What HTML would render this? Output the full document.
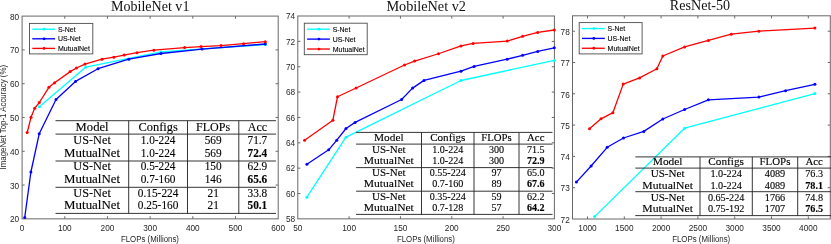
<!DOCTYPE html>
<html><head><meta charset="utf-8"><title>MutualNet accuracy-FLOPs</title>
<style>
html,body{margin:0;padding:0;background:#fff;}
body{width:831px;height:244px;overflow:hidden;}
svg{display:block;will-change:transform;opacity:0.999;}
text{font-family:"Liberation Sans",sans-serif;}
.tk{font-size:8.5px;fill:#262626;}
.al{font-size:8.3px;fill:#262626;}
.lg{font-size:7px;fill:#000;stroke:#000;stroke-width:0.1px;}
.ti{font-family:"Liberation Serif",serif;font-size:13.6px;fill:#111;}
.tb{font-family:"Liberation Serif",serif;fill:#000;stroke:#000;stroke-width:0.12px;}
</style></head><body>
<svg width="831" height="244" viewBox="0 0 831 244">
<rect width="831" height="244" fill="#fff"/>
<path d="M64.78 218.85v-2.6M64.78 16.1v2.6M107.46 218.85v-2.6M107.46 16.1v2.6M150.14 218.85v-2.6M150.14 16.1v2.6M192.82 218.85v-2.6M192.82 16.1v2.6M235.5 218.85v-2.6M235.5 16.1v2.6M22.1 185.06h2.6M278.2 185.06h-2.6M22.1 151.27h2.6M278.2 151.27h-2.6M22.1 117.48h2.6M278.2 117.48h-2.6M22.1 83.69h2.6M278.2 83.69h-2.6M22.1 49.9h2.6M278.2 49.9h-2.6" stroke="#686868" stroke-width="1.0" fill="none"/>
<rect x="22.1" y="16.1" width="256.1" height="202.75" fill="none" stroke="#686868" stroke-width="1.0"/>
<text x="22.1" y="230.55" class="tk" text-anchor="middle" textLength="4.6" lengthAdjust="spacingAndGlyphs">0</text>
<text x="64.78" y="230.55" class="tk" text-anchor="middle" textLength="13.8" lengthAdjust="spacingAndGlyphs">100</text>
<text x="107.46" y="230.55" class="tk" text-anchor="middle" textLength="13.8" lengthAdjust="spacingAndGlyphs">200</text>
<text x="150.14" y="230.55" class="tk" text-anchor="middle" textLength="13.8" lengthAdjust="spacingAndGlyphs">300</text>
<text x="192.82" y="230.55" class="tk" text-anchor="middle" textLength="13.8" lengthAdjust="spacingAndGlyphs">400</text>
<text x="235.5" y="230.55" class="tk" text-anchor="middle" textLength="13.8" lengthAdjust="spacingAndGlyphs">500</text>
<text x="278.18" y="230.55" class="tk" text-anchor="middle" textLength="13.8" lengthAdjust="spacingAndGlyphs">600</text>
<text x="19.1" y="222.3" class="tk" text-anchor="end" textLength="9.2" lengthAdjust="spacingAndGlyphs">20</text>
<text x="19.1" y="188.51" class="tk" text-anchor="end" textLength="9.2" lengthAdjust="spacingAndGlyphs">30</text>
<text x="19.1" y="154.72" class="tk" text-anchor="end" textLength="9.2" lengthAdjust="spacingAndGlyphs">40</text>
<text x="19.1" y="120.93" class="tk" text-anchor="end" textLength="9.2" lengthAdjust="spacingAndGlyphs">50</text>
<text x="19.1" y="87.14" class="tk" text-anchor="end" textLength="9.2" lengthAdjust="spacingAndGlyphs">60</text>
<text x="19.1" y="53.35" class="tk" text-anchor="end" textLength="9.2" lengthAdjust="spacingAndGlyphs">70</text>
<text x="19.1" y="19.56" class="tk" text-anchor="end" textLength="9.2" lengthAdjust="spacingAndGlyphs">80</text>
<text x="149.95" y="241.6" class="al" text-anchor="middle" textLength="58" lengthAdjust="spacingAndGlyphs">FLOPs (Millions)</text>
<text transform="translate(6.4 117.2) rotate(-90)" class="al" text-anchor="middle" textLength="104.6" lengthAdjust="spacingAndGlyphs">ImageNet Top-1 Accuracy (%)</text>
<text x="150.2" y="10.8" class="ti" text-anchor="middle" textLength="78.4" lengthAdjust="spacingAndGlyphs">MobileNet v1</text>
<polyline points="39.3,106.8 85.9,67.1 161,51.9 265.3,44.5" fill="none" stroke="#00ffff" stroke-width="1.3" stroke-linejoin="round"/>
<circle cx="39.3" cy="106.8" r="1.5" fill="#00ffff"/>
<circle cx="85.9" cy="67.1" r="1.5" fill="#00ffff"/>
<circle cx="161" cy="51.9" r="1.5" fill="#00ffff"/>
<circle cx="265.3" cy="44.5" r="1.5" fill="#00ffff"/>
<polyline points="24.75,217.4 30.9,172 39.2,133.8 56,99.5 75.5,81.4 98,68.7 128.8,59.2 161,53.5 202,49.1 265.3,44" fill="none" stroke="#0000ff" stroke-width="1.3" stroke-linejoin="round"/>
<circle cx="24.75" cy="217.4" r="1.5" fill="#0000ff"/>
<circle cx="30.9" cy="172" r="1.5" fill="#0000ff"/>
<circle cx="39.2" cy="133.8" r="1.5" fill="#0000ff"/>
<circle cx="56" cy="99.5" r="1.5" fill="#0000ff"/>
<circle cx="75.5" cy="81.4" r="1.5" fill="#0000ff"/>
<circle cx="98" cy="68.7" r="1.5" fill="#0000ff"/>
<circle cx="128.8" cy="59.2" r="1.5" fill="#0000ff"/>
<circle cx="161" cy="53.5" r="1.5" fill="#0000ff"/>
<circle cx="202" cy="49.1" r="1.5" fill="#0000ff"/>
<circle cx="265.3" cy="44" r="1.5" fill="#0000ff"/>
<polyline points="27.2,132.5 31,117.3 34.7,108.3 39.3,102.5 48.9,87.3 54.6,82.8 70.2,71.6 76.4,68 85,64.1 102,59.2 113.8,57.2 124.2,55.1 137,52.7 153.8,50.2 184.6,47.6 201,46.6 221,45.6 243.6,43.7 265.3,41.7" fill="none" stroke="#ff0000" stroke-width="1.3" stroke-linejoin="round"/>
<circle cx="27.2" cy="132.5" r="1.5" fill="#ff0000"/>
<circle cx="31" cy="117.3" r="1.5" fill="#ff0000"/>
<circle cx="34.7" cy="108.3" r="1.5" fill="#ff0000"/>
<circle cx="39.3" cy="102.5" r="1.5" fill="#ff0000"/>
<circle cx="48.9" cy="87.3" r="1.5" fill="#ff0000"/>
<circle cx="54.6" cy="82.8" r="1.5" fill="#ff0000"/>
<circle cx="70.2" cy="71.6" r="1.5" fill="#ff0000"/>
<circle cx="76.4" cy="68" r="1.5" fill="#ff0000"/>
<circle cx="85" cy="64.1" r="1.5" fill="#ff0000"/>
<circle cx="102" cy="59.2" r="1.5" fill="#ff0000"/>
<circle cx="113.8" cy="57.2" r="1.5" fill="#ff0000"/>
<circle cx="124.2" cy="55.1" r="1.5" fill="#ff0000"/>
<circle cx="137" cy="52.7" r="1.5" fill="#ff0000"/>
<circle cx="153.8" cy="50.2" r="1.5" fill="#ff0000"/>
<circle cx="184.6" cy="47.6" r="1.5" fill="#ff0000"/>
<circle cx="201" cy="46.6" r="1.5" fill="#ff0000"/>
<circle cx="221" cy="45.6" r="1.5" fill="#ff0000"/>
<circle cx="243.6" cy="43.7" r="1.5" fill="#ff0000"/>
<circle cx="265.3" cy="41.7" r="1.5" fill="#ff0000"/>
<rect x="29.5" y="23.4" width="63.3" height="30.5" fill="#fff" stroke="#4c4c4c" stroke-width="0.9"/>
<path d="M32.3 29.2h22.8" stroke="#00ffff" stroke-width="1.35"/>
<circle cx="44.1" cy="29.2" r="1.4" fill="#00ffff"/>
<text x="57.9" y="31.7" class="lg" textLength="17.7" lengthAdjust="spacingAndGlyphs">S-Net</text>
<path d="M32.3 38.8h22.8" stroke="#0000ff" stroke-width="1.35"/>
<circle cx="44.1" cy="38.8" r="1.4" fill="#0000ff"/>
<text x="57.9" y="41.3" class="lg" textLength="22.8" lengthAdjust="spacingAndGlyphs">US-Net</text>
<path d="M32.3 48.41h22.8" stroke="#ff0000" stroke-width="1.35"/>
<circle cx="44.1" cy="48.41" r="1.4" fill="#ff0000"/>
<text x="57.9" y="50.91" class="lg" textLength="32" lengthAdjust="spacingAndGlyphs">MutualNet</text>
<path d="M349.12 218.85v-2.6M349.12 16v2.6M400.44 218.85v-2.6M400.44 16v2.6M451.76 218.85v-2.6M451.76 16v2.6M503.08 218.85v-2.6M503.08 16v2.6M297.8 193.5h2.6M554.4 193.5h-2.6M297.8 168.15h2.6M554.4 168.15h-2.6M297.8 142.8h2.6M554.4 142.8h-2.6M297.8 117.45h2.6M554.4 117.45h-2.6M297.8 92.1h2.6M554.4 92.1h-2.6M297.8 66.75h2.6M554.4 66.75h-2.6M297.8 41.4h2.6M554.4 41.4h-2.6" stroke="#686868" stroke-width="1.0" fill="none"/>
<rect x="297.8" y="16" width="256.6" height="202.85" fill="none" stroke="#686868" stroke-width="1.0"/>
<text x="297.8" y="230.55" class="tk" text-anchor="middle" textLength="9.2" lengthAdjust="spacingAndGlyphs">50</text>
<text x="349.12" y="230.55" class="tk" text-anchor="middle" textLength="13.8" lengthAdjust="spacingAndGlyphs">100</text>
<text x="400.44" y="230.55" class="tk" text-anchor="middle" textLength="13.8" lengthAdjust="spacingAndGlyphs">150</text>
<text x="451.76" y="230.55" class="tk" text-anchor="middle" textLength="13.8" lengthAdjust="spacingAndGlyphs">200</text>
<text x="503.08" y="230.55" class="tk" text-anchor="middle" textLength="13.8" lengthAdjust="spacingAndGlyphs">250</text>
<text x="554.4" y="230.55" class="tk" text-anchor="middle" textLength="13.8" lengthAdjust="spacingAndGlyphs">300</text>
<text x="295.1" y="222.05" class="tk" text-anchor="end" textLength="9.2" lengthAdjust="spacingAndGlyphs">58</text>
<text x="295.1" y="196.7" class="tk" text-anchor="end" textLength="9.2" lengthAdjust="spacingAndGlyphs">60</text>
<text x="295.1" y="171.35" class="tk" text-anchor="end" textLength="9.2" lengthAdjust="spacingAndGlyphs">62</text>
<text x="295.1" y="146" class="tk" text-anchor="end" textLength="9.2" lengthAdjust="spacingAndGlyphs">64</text>
<text x="295.1" y="120.65" class="tk" text-anchor="end" textLength="9.2" lengthAdjust="spacingAndGlyphs">66</text>
<text x="295.1" y="95.3" class="tk" text-anchor="end" textLength="9.2" lengthAdjust="spacingAndGlyphs">68</text>
<text x="295.1" y="69.95" class="tk" text-anchor="end" textLength="9.2" lengthAdjust="spacingAndGlyphs">70</text>
<text x="295.1" y="44.6" class="tk" text-anchor="end" textLength="9.2" lengthAdjust="spacingAndGlyphs">72</text>
<text x="295.1" y="19.25" class="tk" text-anchor="end" textLength="9.2" lengthAdjust="spacingAndGlyphs">74</text>
<text x="425.9" y="241.6" class="al" text-anchor="middle" textLength="58" lengthAdjust="spacingAndGlyphs">FLOPs (Millions)</text>
<text x="426.2" y="10.8" class="ti" text-anchor="middle" textLength="79.6" lengthAdjust="spacingAndGlyphs">MobileNet v2</text>
<polyline points="306.9,197.2 346,137.2 461,80.5 554.3,60.4" fill="none" stroke="#00ffff" stroke-width="1.3" stroke-linejoin="round"/>
<circle cx="306.9" cy="197.2" r="1.5" fill="#00ffff"/>
<circle cx="346" cy="137.2" r="1.5" fill="#00ffff"/>
<circle cx="461" cy="80.5" r="1.5" fill="#00ffff"/>
<circle cx="554.3" cy="60.4" r="1.5" fill="#00ffff"/>
<polyline points="306.9,164.3 328.7,149.8 336.8,140.2 346,128.5 355.1,122.4 401.6,99.5 412.6,88.1 424,80.4 461,71.2 474.1,66.4 507.2,59.2 522.6,55.3 537.7,51.4 554.3,47.8" fill="none" stroke="#0000ff" stroke-width="1.3" stroke-linejoin="round"/>
<circle cx="306.9" cy="164.3" r="1.5" fill="#0000ff"/>
<circle cx="328.7" cy="149.8" r="1.5" fill="#0000ff"/>
<circle cx="336.8" cy="140.2" r="1.5" fill="#0000ff"/>
<circle cx="346" cy="128.5" r="1.5" fill="#0000ff"/>
<circle cx="355.1" cy="122.4" r="1.5" fill="#0000ff"/>
<circle cx="401.6" cy="99.5" r="1.5" fill="#0000ff"/>
<circle cx="412.6" cy="88.1" r="1.5" fill="#0000ff"/>
<circle cx="424" cy="80.4" r="1.5" fill="#0000ff"/>
<circle cx="461" cy="71.2" r="1.5" fill="#0000ff"/>
<circle cx="474.1" cy="66.4" r="1.5" fill="#0000ff"/>
<circle cx="507.2" cy="59.2" r="1.5" fill="#0000ff"/>
<circle cx="522.6" cy="55.3" r="1.5" fill="#0000ff"/>
<circle cx="537.7" cy="51.4" r="1.5" fill="#0000ff"/>
<circle cx="554.3" cy="47.8" r="1.5" fill="#0000ff"/>
<polyline points="304.6,140.2 332.9,120.2 337.5,96.75 356.1,88 404.5,65 414.6,61.1 438.5,53.75 461,45.9 473.1,43.4 507.2,41.1 522.6,36.3 537.7,32.4 554.3,30" fill="none" stroke="#ff0000" stroke-width="1.3" stroke-linejoin="round"/>
<circle cx="304.6" cy="140.2" r="1.5" fill="#ff0000"/>
<circle cx="332.9" cy="120.2" r="1.5" fill="#ff0000"/>
<circle cx="337.5" cy="96.75" r="1.5" fill="#ff0000"/>
<circle cx="356.1" cy="88" r="1.5" fill="#ff0000"/>
<circle cx="404.5" cy="65" r="1.5" fill="#ff0000"/>
<circle cx="414.6" cy="61.1" r="1.5" fill="#ff0000"/>
<circle cx="438.5" cy="53.75" r="1.5" fill="#ff0000"/>
<circle cx="461" cy="45.9" r="1.5" fill="#ff0000"/>
<circle cx="473.1" cy="43.4" r="1.5" fill="#ff0000"/>
<circle cx="507.2" cy="41.1" r="1.5" fill="#ff0000"/>
<circle cx="522.6" cy="36.3" r="1.5" fill="#ff0000"/>
<circle cx="537.7" cy="32.4" r="1.5" fill="#ff0000"/>
<circle cx="554.3" cy="30" r="1.5" fill="#ff0000"/>
<rect x="304.3" y="23.2" width="62.9" height="31.5" fill="#fff" stroke="#4c4c4c" stroke-width="0.9"/>
<path d="M307.1 29.18h22.8" stroke="#00ffff" stroke-width="1.35"/>
<circle cx="318.9" cy="29.18" r="1.4" fill="#00ffff"/>
<text x="332.7" y="31.68" class="lg" textLength="17.7" lengthAdjust="spacingAndGlyphs">S-Net</text>
<path d="M307.1 39.11h22.8" stroke="#0000ff" stroke-width="1.35"/>
<circle cx="318.9" cy="39.11" r="1.4" fill="#0000ff"/>
<text x="332.7" y="41.61" class="lg" textLength="22.8" lengthAdjust="spacingAndGlyphs">US-Net</text>
<path d="M307.1 49.03h22.8" stroke="#ff0000" stroke-width="1.35"/>
<circle cx="318.9" cy="49.03" r="1.4" fill="#ff0000"/>
<text x="332.7" y="51.53" class="lg" textLength="32" lengthAdjust="spacingAndGlyphs">MutualNet</text>
<path d="M587.5 219v-2.6M587.5 15.8v2.6M624.3 219v-2.6M624.3 15.8v2.6M661.1 219v-2.6M661.1 15.8v2.6M697.9 219v-2.6M697.9 15.8v2.6M734.7 219v-2.6M734.7 15.8v2.6M771.5 219v-2.6M771.5 15.8v2.6M808.3 219v-2.6M808.3 15.8v2.6M572.5 187.7h2.6M830.3 187.7h-2.6M572.5 156.4h2.6M830.3 156.4h-2.6M572.5 125.1h2.6M830.3 125.1h-2.6M572.5 93.8h2.6M830.3 93.8h-2.6M572.5 62.5h2.6M830.3 62.5h-2.6M572.5 31.2h2.6M830.3 31.2h-2.6" stroke="#686868" stroke-width="1.0" fill="none"/>
<rect x="572.5" y="15.8" width="257.8" height="203.2" fill="none" stroke="#686868" stroke-width="1.0"/>
<text x="587.5" y="230.7" class="tk" text-anchor="middle" textLength="18.4" lengthAdjust="spacingAndGlyphs">1000</text>
<text x="624.3" y="230.7" class="tk" text-anchor="middle" textLength="18.4" lengthAdjust="spacingAndGlyphs">1500</text>
<text x="661.1" y="230.7" class="tk" text-anchor="middle" textLength="18.4" lengthAdjust="spacingAndGlyphs">2000</text>
<text x="697.9" y="230.7" class="tk" text-anchor="middle" textLength="18.4" lengthAdjust="spacingAndGlyphs">2500</text>
<text x="734.7" y="230.7" class="tk" text-anchor="middle" textLength="18.4" lengthAdjust="spacingAndGlyphs">3000</text>
<text x="771.5" y="230.7" class="tk" text-anchor="middle" textLength="18.4" lengthAdjust="spacingAndGlyphs">3500</text>
<text x="808.3" y="230.7" class="tk" text-anchor="middle" textLength="18.4" lengthAdjust="spacingAndGlyphs">4000</text>
<text x="569.8" y="222.7" class="tk" text-anchor="end" textLength="9.2" lengthAdjust="spacingAndGlyphs">72</text>
<text x="569.8" y="191.4" class="tk" text-anchor="end" textLength="9.2" lengthAdjust="spacingAndGlyphs">73</text>
<text x="569.8" y="160.1" class="tk" text-anchor="end" textLength="9.2" lengthAdjust="spacingAndGlyphs">74</text>
<text x="569.8" y="128.8" class="tk" text-anchor="end" textLength="9.2" lengthAdjust="spacingAndGlyphs">75</text>
<text x="569.8" y="97.5" class="tk" text-anchor="end" textLength="9.2" lengthAdjust="spacingAndGlyphs">76</text>
<text x="569.8" y="66.2" class="tk" text-anchor="end" textLength="9.2" lengthAdjust="spacingAndGlyphs">77</text>
<text x="569.8" y="34.9" class="tk" text-anchor="end" textLength="9.2" lengthAdjust="spacingAndGlyphs">78</text>
<text x="701.2" y="241.6" class="al" text-anchor="middle" textLength="58" lengthAdjust="spacingAndGlyphs">FLOPs (Millions)</text>
<text x="700" y="10.3" class="ti" text-anchor="middle" textLength="60.3" lengthAdjust="spacingAndGlyphs">ResNet-50</text>
<polyline points="594.6,216.6 684.6,128.2 814.9,93.6" fill="none" stroke="#00ffff" stroke-width="1.3" stroke-linejoin="round"/>
<circle cx="594.6" cy="216.6" r="1.5" fill="#00ffff"/>
<circle cx="684.6" cy="128.2" r="1.5" fill="#00ffff"/>
<circle cx="814.9" cy="93.6" r="1.5" fill="#00ffff"/>
<polyline points="576.4,182.1 591.1,166 607.2,147.3 623.5,138 643.8,131.4 662.8,119 684.6,109.5 708.4,99.8 758.9,97.1 785.6,90.7 814.9,84.3" fill="none" stroke="#0000ff" stroke-width="1.3" stroke-linejoin="round"/>
<circle cx="576.4" cy="182.1" r="1.5" fill="#0000ff"/>
<circle cx="591.1" cy="166" r="1.5" fill="#0000ff"/>
<circle cx="607.2" cy="147.3" r="1.5" fill="#0000ff"/>
<circle cx="623.5" cy="138" r="1.5" fill="#0000ff"/>
<circle cx="643.8" cy="131.4" r="1.5" fill="#0000ff"/>
<circle cx="662.8" cy="119" r="1.5" fill="#0000ff"/>
<circle cx="684.6" cy="109.5" r="1.5" fill="#0000ff"/>
<circle cx="708.4" cy="99.8" r="1.5" fill="#0000ff"/>
<circle cx="758.9" cy="97.1" r="1.5" fill="#0000ff"/>
<circle cx="785.6" cy="90.7" r="1.5" fill="#0000ff"/>
<circle cx="814.9" cy="84.3" r="1.5" fill="#0000ff"/>
<polyline points="589.5,128.7 601,118.8 612.9,112.7 623.2,84.1 639.6,77.9 656.9,68.7 662.8,56 684.6,46.9 708.4,40.4 731.3,34.2 758.9,31.2 814.9,28.1" fill="none" stroke="#ff0000" stroke-width="1.3" stroke-linejoin="round"/>
<circle cx="589.5" cy="128.7" r="1.5" fill="#ff0000"/>
<circle cx="601" cy="118.8" r="1.5" fill="#ff0000"/>
<circle cx="612.9" cy="112.7" r="1.5" fill="#ff0000"/>
<circle cx="623.2" cy="84.1" r="1.5" fill="#ff0000"/>
<circle cx="639.6" cy="77.9" r="1.5" fill="#ff0000"/>
<circle cx="656.9" cy="68.7" r="1.5" fill="#ff0000"/>
<circle cx="662.8" cy="56" r="1.5" fill="#ff0000"/>
<circle cx="684.6" cy="46.9" r="1.5" fill="#ff0000"/>
<circle cx="708.4" cy="40.4" r="1.5" fill="#ff0000"/>
<circle cx="731.3" cy="34.2" r="1.5" fill="#ff0000"/>
<circle cx="758.9" cy="31.2" r="1.5" fill="#ff0000"/>
<circle cx="814.9" cy="28.1" r="1.5" fill="#ff0000"/>
<rect x="579.2" y="22.6" width="62.9" height="31.3" fill="#fff" stroke="#4c4c4c" stroke-width="0.9"/>
<path d="M582 28.55h22.8" stroke="#00ffff" stroke-width="1.35"/>
<circle cx="593.8" cy="28.55" r="1.4" fill="#00ffff"/>
<text x="607.6" y="31.05" class="lg" textLength="17.7" lengthAdjust="spacingAndGlyphs">S-Net</text>
<path d="M582 38.41h22.8" stroke="#0000ff" stroke-width="1.35"/>
<circle cx="593.8" cy="38.41" r="1.4" fill="#0000ff"/>
<text x="607.6" y="40.91" class="lg" textLength="22.8" lengthAdjust="spacingAndGlyphs">US-Net</text>
<path d="M582 48.27h22.8" stroke="#ff0000" stroke-width="1.35"/>
<circle cx="593.8" cy="48.27" r="1.4" fill="#ff0000"/>
<text x="607.6" y="50.77" class="lg" textLength="32" lengthAdjust="spacingAndGlyphs">MutualNet</text>
<path d="M55.5 120.7H276M55.5 134.1H276M55.5 161H276M55.5 187.3H276M55.5 213.4H276M128.7 120.7V213.4M187.5 120.7V213.4M238.8 120.7V213.4" stroke="#2a2a2a" stroke-width="0.95" fill="none"/>
<text x="92.1" y="130.8" class="tb" font-size="11.92" text-anchor="middle" textLength="32.96" lengthAdjust="spacingAndGlyphs">Model</text>
<text x="158.1" y="130.8" class="tb" font-size="11.92" text-anchor="middle" textLength="39.38" lengthAdjust="spacingAndGlyphs">Configs</text>
<text x="213.15" y="130.8" class="tb" font-size="11.92" text-anchor="middle" textLength="34.19" lengthAdjust="spacingAndGlyphs">FLOPs</text>
<text x="257.4" y="130.8" class="tb" font-size="11.92" text-anchor="middle" textLength="19.33" lengthAdjust="spacingAndGlyphs">Acc</text>
<text x="92.1" y="143.8" class="tb" font-size="11.92" text-anchor="middle" textLength="37.47" lengthAdjust="spacingAndGlyphs">US-Net</text>
<text x="158.1" y="143.8" class="tb" font-size="11.92" text-anchor="middle" textLength="34.84" lengthAdjust="spacingAndGlyphs">1.0-224</text>
<text x="213.15" y="143.8" class="tb" font-size="11.92" text-anchor="middle" textLength="16.95" lengthAdjust="spacingAndGlyphs">569</text>
<text x="257.4" y="143.8" class="tb" font-size="11.92" text-anchor="middle" textLength="19.78" lengthAdjust="spacingAndGlyphs">71.7</text>
<text x="92.1" y="156.55" class="tb" font-size="11.92" text-anchor="middle" textLength="55.93" lengthAdjust="spacingAndGlyphs">MutualNet</text>
<text x="158.1" y="156.55" class="tb" font-size="11.92" text-anchor="middle" textLength="34.84" lengthAdjust="spacingAndGlyphs">1.0-224</text>
<text x="213.15" y="156.55" class="tb" font-size="11.92" text-anchor="middle" textLength="16.95" lengthAdjust="spacingAndGlyphs">569</text>
<text x="257.4" y="156.55" class="tb" font-size="11.92" text-anchor="middle" textLength="19.78" lengthAdjust="spacingAndGlyphs" font-weight="bold">72.4</text>
<text x="92.1" y="170.25" class="tb" font-size="11.92" text-anchor="middle" textLength="37.47" lengthAdjust="spacingAndGlyphs">US-Net</text>
<text x="158.1" y="170.25" class="tb" font-size="11.92" text-anchor="middle" textLength="34.84" lengthAdjust="spacingAndGlyphs">0.5-224</text>
<text x="213.15" y="170.25" class="tb" font-size="11.92" text-anchor="middle" textLength="16.95" lengthAdjust="spacingAndGlyphs">150</text>
<text x="257.4" y="170.25" class="tb" font-size="11.92" text-anchor="middle" textLength="19.78" lengthAdjust="spacingAndGlyphs">62.9</text>
<text x="92.1" y="183" class="tb" font-size="11.92" text-anchor="middle" textLength="55.93" lengthAdjust="spacingAndGlyphs">MutualNet</text>
<text x="158.1" y="183" class="tb" font-size="11.92" text-anchor="middle" textLength="34.84" lengthAdjust="spacingAndGlyphs">0.7-160</text>
<text x="213.15" y="183" class="tb" font-size="11.92" text-anchor="middle" textLength="16.95" lengthAdjust="spacingAndGlyphs">146</text>
<text x="257.4" y="183" class="tb" font-size="11.92" text-anchor="middle" textLength="19.78" lengthAdjust="spacingAndGlyphs" font-weight="bold">65.6</text>
<text x="92.1" y="196.7" class="tb" font-size="11.92" text-anchor="middle" textLength="37.47" lengthAdjust="spacingAndGlyphs">US-Net</text>
<text x="158.1" y="196.7" class="tb" font-size="11.92" text-anchor="middle" textLength="40.49" lengthAdjust="spacingAndGlyphs">0.15-224</text>
<text x="213.15" y="196.7" class="tb" font-size="11.92" text-anchor="middle" textLength="11.3" lengthAdjust="spacingAndGlyphs">21</text>
<text x="257.4" y="196.7" class="tb" font-size="11.92" text-anchor="middle" textLength="19.78" lengthAdjust="spacingAndGlyphs">33.8</text>
<text x="92.1" y="209.45" class="tb" font-size="11.92" text-anchor="middle" textLength="55.93" lengthAdjust="spacingAndGlyphs">MutualNet</text>
<text x="158.1" y="209.45" class="tb" font-size="11.92" text-anchor="middle" textLength="40.49" lengthAdjust="spacingAndGlyphs">0.25-160</text>
<text x="213.15" y="209.45" class="tb" font-size="11.92" text-anchor="middle" textLength="11.3" lengthAdjust="spacingAndGlyphs">21</text>
<text x="257.4" y="209.45" class="tb" font-size="11.92" text-anchor="middle" textLength="19.78" lengthAdjust="spacingAndGlyphs" font-weight="bold">50.1</text>
<path d="M356.1 132.4H552.5M356.1 144.1H552.5M356.1 167.6H552.5M356.1 191.2H552.5M356.1 214.4H552.5M421.5 132.4V214.4M474 132.4V214.4M519 132.4V214.4" stroke="#2a2a2a" stroke-width="0.95" fill="none"/>
<text x="388.8" y="140.8" class="tb" font-size="10.66" text-anchor="middle" textLength="29.52" lengthAdjust="spacingAndGlyphs">Model</text>
<text x="447.75" y="140.8" class="tb" font-size="10.66" text-anchor="middle" textLength="35.25" lengthAdjust="spacingAndGlyphs">Configs</text>
<text x="496.5" y="140.8" class="tb" font-size="10.66" text-anchor="middle" textLength="30.61" lengthAdjust="spacingAndGlyphs">FLOPs</text>
<text x="535.75" y="140.8" class="tb" font-size="10.66" text-anchor="middle" textLength="17.33" lengthAdjust="spacingAndGlyphs">Acc</text>
<text x="388.8" y="152.6" class="tb" font-size="10.66" text-anchor="middle" textLength="33.55" lengthAdjust="spacingAndGlyphs">US-Net</text>
<text x="447.75" y="152.6" class="tb" font-size="10.66" text-anchor="middle" textLength="31.14" lengthAdjust="spacingAndGlyphs">1.0-224</text>
<text x="496.5" y="152.6" class="tb" font-size="10.66" text-anchor="middle" textLength="15.15" lengthAdjust="spacingAndGlyphs">300</text>
<text x="535.75" y="152.6" class="tb" font-size="10.66" text-anchor="middle" textLength="17.68" lengthAdjust="spacingAndGlyphs">71.5</text>
<text x="388.8" y="163.95" class="tb" font-size="10.66" text-anchor="middle" textLength="50.04" lengthAdjust="spacingAndGlyphs">MutualNet</text>
<text x="447.75" y="163.95" class="tb" font-size="10.66" text-anchor="middle" textLength="31.14" lengthAdjust="spacingAndGlyphs">1.0-224</text>
<text x="496.5" y="163.95" class="tb" font-size="10.66" text-anchor="middle" textLength="15.15" lengthAdjust="spacingAndGlyphs">300</text>
<text x="535.75" y="163.95" class="tb" font-size="10.66" text-anchor="middle" textLength="17.68" lengthAdjust="spacingAndGlyphs" font-weight="bold">72.9</text>
<text x="388.8" y="175.8" class="tb" font-size="10.66" text-anchor="middle" textLength="33.55" lengthAdjust="spacingAndGlyphs">US-Net</text>
<text x="447.75" y="175.8" class="tb" font-size="10.66" text-anchor="middle" textLength="36.19" lengthAdjust="spacingAndGlyphs">0.55-224</text>
<text x="496.5" y="175.8" class="tb" font-size="10.66" text-anchor="middle" textLength="10.1" lengthAdjust="spacingAndGlyphs">97</text>
<text x="535.75" y="175.8" class="tb" font-size="10.66" text-anchor="middle" textLength="17.68" lengthAdjust="spacingAndGlyphs">65.0</text>
<text x="388.8" y="187.15" class="tb" font-size="10.66" text-anchor="middle" textLength="50.04" lengthAdjust="spacingAndGlyphs">MutualNet</text>
<text x="447.75" y="187.15" class="tb" font-size="10.66" text-anchor="middle" textLength="31.14" lengthAdjust="spacingAndGlyphs">0.7-160</text>
<text x="496.5" y="187.15" class="tb" font-size="10.66" text-anchor="middle" textLength="10.1" lengthAdjust="spacingAndGlyphs">89</text>
<text x="535.75" y="187.15" class="tb" font-size="10.66" text-anchor="middle" textLength="17.68" lengthAdjust="spacingAndGlyphs" font-weight="bold">67.6</text>
<text x="388.8" y="199.65" class="tb" font-size="10.66" text-anchor="middle" textLength="33.55" lengthAdjust="spacingAndGlyphs">US-Net</text>
<text x="447.75" y="199.65" class="tb" font-size="10.66" text-anchor="middle" textLength="36.19" lengthAdjust="spacingAndGlyphs">0.35-224</text>
<text x="496.5" y="199.65" class="tb" font-size="10.66" text-anchor="middle" textLength="10.1" lengthAdjust="spacingAndGlyphs">59</text>
<text x="535.75" y="199.65" class="tb" font-size="10.66" text-anchor="middle" textLength="17.68" lengthAdjust="spacingAndGlyphs">62.2</text>
<text x="388.8" y="210.9" class="tb" font-size="10.66" text-anchor="middle" textLength="50.04" lengthAdjust="spacingAndGlyphs">MutualNet</text>
<text x="447.75" y="210.9" class="tb" font-size="10.66" text-anchor="middle" textLength="31.14" lengthAdjust="spacingAndGlyphs">0.7-128</text>
<text x="496.5" y="210.9" class="tb" font-size="10.66" text-anchor="middle" textLength="10.1" lengthAdjust="spacingAndGlyphs">57</text>
<text x="535.75" y="210.9" class="tb" font-size="10.66" text-anchor="middle" textLength="17.68" lengthAdjust="spacingAndGlyphs" font-weight="bold">64.2</text>
<path d="M635.3 156.9H831.5M635.3 168.1H831.5M635.3 191.7H831.5M635.3 215.6H831.5M700 156.9V215.6M752.3 156.9V215.6M797.7 156.9V215.6" stroke="#2a2a2a" stroke-width="0.95" fill="none"/>
<text x="667.65" y="165.2" class="tb" font-size="10.76" text-anchor="middle" textLength="29.8" lengthAdjust="spacingAndGlyphs">Model</text>
<text x="726.15" y="165.2" class="tb" font-size="10.76" text-anchor="middle" textLength="35.6" lengthAdjust="spacingAndGlyphs">Configs</text>
<text x="775" y="165.2" class="tb" font-size="10.76" text-anchor="middle" textLength="30.91" lengthAdjust="spacingAndGlyphs">FLOPs</text>
<text x="814.15" y="165.2" class="tb" font-size="10.76" text-anchor="middle" textLength="17.49" lengthAdjust="spacingAndGlyphs">Acc</text>
<text x="667.65" y="177" class="tb" font-size="10.76" text-anchor="middle" textLength="33.87" lengthAdjust="spacingAndGlyphs">US-Net</text>
<text x="726.15" y="177" class="tb" font-size="10.76" text-anchor="middle" textLength="31.45" lengthAdjust="spacingAndGlyphs">1.0-224</text>
<text x="775" y="177" class="tb" font-size="10.76" text-anchor="middle" textLength="20.4" lengthAdjust="spacingAndGlyphs">4089</text>
<text x="814.15" y="177" class="tb" font-size="10.76" text-anchor="middle" textLength="17.85" lengthAdjust="spacingAndGlyphs">76.3</text>
<text x="667.65" y="188.6" class="tb" font-size="10.76" text-anchor="middle" textLength="50.53" lengthAdjust="spacingAndGlyphs">MutualNet</text>
<text x="726.15" y="188.6" class="tb" font-size="10.76" text-anchor="middle" textLength="31.45" lengthAdjust="spacingAndGlyphs">1.0-224</text>
<text x="775" y="188.6" class="tb" font-size="10.76" text-anchor="middle" textLength="20.4" lengthAdjust="spacingAndGlyphs">4089</text>
<text x="814.15" y="188.6" class="tb" font-size="10.76" text-anchor="middle" textLength="17.85" lengthAdjust="spacingAndGlyphs" font-weight="bold">78.1</text>
<text x="667.65" y="200.8" class="tb" font-size="10.76" text-anchor="middle" textLength="33.87" lengthAdjust="spacingAndGlyphs">US-Net</text>
<text x="726.15" y="200.8" class="tb" font-size="10.76" text-anchor="middle" textLength="36.55" lengthAdjust="spacingAndGlyphs">0.65-224</text>
<text x="775" y="200.8" class="tb" font-size="10.76" text-anchor="middle" textLength="20.4" lengthAdjust="spacingAndGlyphs">1766</text>
<text x="814.15" y="200.8" class="tb" font-size="10.76" text-anchor="middle" textLength="17.85" lengthAdjust="spacingAndGlyphs">74.8</text>
<text x="667.65" y="212.2" class="tb" font-size="10.76" text-anchor="middle" textLength="50.53" lengthAdjust="spacingAndGlyphs">MutualNet</text>
<text x="726.15" y="212.2" class="tb" font-size="10.76" text-anchor="middle" textLength="36.55" lengthAdjust="spacingAndGlyphs">0.75-192</text>
<text x="775" y="212.2" class="tb" font-size="10.76" text-anchor="middle" textLength="20.4" lengthAdjust="spacingAndGlyphs">1707</text>
<text x="814.15" y="212.2" class="tb" font-size="10.76" text-anchor="middle" textLength="17.85" lengthAdjust="spacingAndGlyphs" font-weight="bold">76.5</text>
</svg>
</body></html>
